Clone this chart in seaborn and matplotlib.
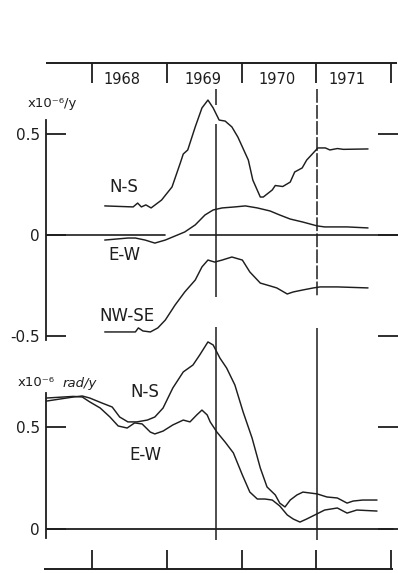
import numpy as np
import pandas as pd
import matplotlib
matplotlib.use("Agg")
import matplotlib.pyplot as plt
import matplotlib.transforms as mtransforms
import seaborn as sns

# ---------------- data ----------------
# Upper panel: strain rate (x10^-6 / y)
ns_top_year = [1968.17, 1968.55, 1968.61, 1968.66, 1968.72, 1968.79, 1968.93, 1969.07,
               1969.18, 1969.22, 1969.28, 1969.38, 1969.47, 1969.55, 1969.62, 1969.70,
               1969.78, 1969.87, 1969.95, 1970.09, 1970.15, 1970.25, 1970.29, 1970.41,
               1970.45, 1970.55, 1970.65, 1970.71, 1970.81, 1970.87, 1971.02, 1971.12,
               1971.18, 1971.28, 1971.36, 1971.69]
ns_top_val = [0.144, 0.139, 0.158, 0.139, 0.149, 0.134, 0.173, 0.238,
              0.356, 0.401, 0.421, 0.535, 0.629, 0.668, 0.629, 0.569,
              0.564, 0.535, 0.485, 0.371, 0.272, 0.188, 0.188, 0.223,
              0.245, 0.240, 0.262, 0.312, 0.332, 0.371, 0.431, 0.431,
              0.421, 0.428, 0.424, 0.426]

ew_top_year = [1968.17, 1968.48, 1968.58, 1968.71, 1968.84, 1968.98, 1969.11, 1969.24,
               1969.38, 1969.51, 1969.62, 1969.74, 1969.91, 1970.05, 1970.21, 1970.38,
               1970.51, 1970.65, 1970.82, 1971.01, 1971.11, 1971.41, 1971.69]
ew_top_val = [-0.025, -0.015, -0.015, -0.025, -0.040, -0.025, -0.005, 0.015,
              0.050, 0.099, 0.124, 0.134, 0.139, 0.144, 0.134, 0.119,
              0.099, 0.079, 0.064, 0.045, 0.040, 0.040, 0.035]

nwse_top_year = [1968.17, 1968.58, 1968.62, 1968.68, 1968.78, 1968.88, 1968.98, 1969.11,
                 1969.24, 1969.38, 1969.47, 1969.55, 1969.64, 1969.74, 1969.87, 1970.01,
                 1970.11, 1970.25, 1970.38, 1970.47, 1970.61, 1970.69, 1970.82, 1970.96,
                 1971.05, 1971.28, 1971.69]
nwse_top_val = [-0.480, -0.480, -0.460, -0.475, -0.480, -0.460, -0.421, -0.347,
                -0.282, -0.223, -0.158, -0.124, -0.134, -0.124, -0.109, -0.124,
                -0.183, -0.238, -0.252, -0.262, -0.292, -0.282, -0.272, -0.262,
                -0.257, -0.257, -0.262]

# Lower panel: tilt rate (x10^-6 rad / y)
ns_bot_year = [1967.39, 1967.75, 1967.87, 1967.97, 1968.13, 1968.27, 1968.37, 1968.48,
               1968.60, 1968.74, 1968.84, 1968.95, 1969.08, 1969.22, 1969.35, 1969.44,
               1969.55, 1969.62, 1969.71, 1969.80, 1969.91, 1970.02, 1970.14, 1970.25,
               1970.34, 1970.45, 1970.51, 1970.58, 1970.65, 1970.74, 1970.82, 1971.01,
               1971.14, 1971.28, 1971.41, 1971.49, 1971.62, 1971.81]
ns_bot_val = [0.627, 0.647, 0.652, 0.642, 0.618, 0.598, 0.549, 0.525,
              0.525, 0.534, 0.549, 0.593, 0.691, 0.770, 0.804, 0.853,
              0.917, 0.902, 0.838, 0.789, 0.706, 0.574, 0.446, 0.299,
              0.206, 0.167, 0.127, 0.108, 0.142, 0.167, 0.181, 0.172,
              0.157, 0.152, 0.127, 0.137, 0.142, 0.142]

ew_bot_year = [1967.39, 1967.75, 1967.87, 1967.97, 1968.11, 1968.24, 1968.35, 1968.47,
               1968.57, 1968.67, 1968.78, 1968.84, 1968.95, 1969.08, 1969.22, 1969.31,
               1969.40, 1969.47, 1969.54, 1969.58, 1969.67, 1969.78, 1969.89, 1970.01,
               1970.11, 1970.21, 1970.31, 1970.41, 1970.51, 1970.61, 1970.69, 1970.78,
               1970.87, 1970.98, 1971.11, 1971.28, 1971.41, 1971.54, 1971.81]
ew_bot_val = [0.642, 0.650, 0.647, 0.623, 0.593, 0.549, 0.505, 0.495,
              0.520, 0.515, 0.475, 0.466, 0.480, 0.510, 0.534, 0.525,
              0.559, 0.583, 0.559, 0.525, 0.475, 0.426, 0.373, 0.265,
              0.181, 0.147, 0.147, 0.142, 0.113, 0.069, 0.049, 0.034,
              0.049, 0.069, 0.093, 0.103, 0.078, 0.093, 0.088]

year_ticks = [1968, 1969, 1970, 1971, 1972]
year_labels = ["1968", "1969", "1970", "1971"]
event_years = [1969.66, 1971.01]
top_yticks = [-0.5, 0, 0.5]
top_ylabels = ["-0.5", "0", "0.5"]
bot_yticks = [0, 0.5]
bot_ylabels = ["0", "0.5"]

# ---------------- styling / layout ----------------
sns.set_style("white")
plt.rcParams['font.family'] = ['DejaVu Sans']
plt.rcParams['axes.unicode_minus'] = False

W, H = 398, 573
INK = '#1e1e1e'
fig = plt.figure(figsize=(W / 100, H / 100), dpi=100)
fig.patch.set_facecolor('white')


def px_box(x0, y0, x1, y1):
    return [x0 / W, 1 - y1 / H, (x1 - x0) / W, (y1 - y0) / H]


XLIM = (1968 + (46 - 92) / 74.8, 1968 + (398 - 92) / 74.8)

# full-figure overlay for decorations (x in years via blend, y in pixels)
axf = fig.add_axes([0, 0, 1, 1])
axf.set_xlim(0, W)
axf.set_ylim(H, 0)
axf.axis('off')

ax_top = fig.add_axes(px_box(46, 120, 398, 340))
ax_top.set_xlim(*XLIM)
ax_top.set_ylim((235 - 340) / 202, (235 - 120) / 202)

ax_bot = fig.add_axes(px_box(46, 393, 398, 538))
ax_bot.set_xlim(*XLIM)
ax_bot.set_ylim((529 - 538) / 204, (529 - 393) / 204)

top_df = pd.concat([
    pd.DataFrame({'year': ns_top_year, 'val': ns_top_val, 'comp': 'N-S'}),
    pd.DataFrame({'year': ew_top_year, 'val': ew_top_val, 'comp': 'E-W'}),
    pd.DataFrame({'year': nwse_top_year, 'val': nwse_top_val, 'comp': 'NW-SE'}),
], ignore_index=True)
bot_df = pd.concat([
    pd.DataFrame({'year': ns_bot_year, 'val': ns_bot_val, 'comp': 'N-S'}),
    pd.DataFrame({'year': ew_bot_year, 'val': ew_bot_val, 'comp': 'E-W'}),
], ignore_index=True)

for ax, df in [(ax_top, top_df), (ax_bot, bot_df)]:
    sns.lineplot(data=df, x='year', y='val', units='comp', estimator=None, sort=False,
                 color=INK, linewidth=1.05, ax=ax, legend=False)
    for ln in ax.lines:
        ln.set_clip_on(False)
    ax.set_facecolor('none')
    ax.set_xlabel('')
    ax.set_ylabel('')
    ax.set_xticks([])
    for s in ['top', 'right', 'bottom']:
        ax.spines[s].set_visible(False)
    ax.spines['left'].set_color(INK)
    ax.spines['left'].set_linewidth(1.3)
    ax.tick_params(axis='y', direction='in', length=14.5, width=1.3, color=INK,
                   left=True, right=True, labelsize=11, pad=4.5, labelcolor=INK)

ax_top.set_yticks(top_yticks, top_ylabels)
ax_bot.set_yticks(bot_yticks, bot_ylabels)

# zero lines
ax_top.axhline(0, xmin=0, xmax=0.338, color=INK, lw=1.2)
ax_top.axhline(0, xmin=0.409, xmax=1.0, color=INK, lw=1.2)
ax_bot.axhline(0, xmin=0, xmax=0.986, color=INK, lw=1.3)

# curve labels
lab_kw = dict(fontsize=12, color=INK, ha='center', va='center')
ax_top.text(1968.43, 0.238, 'N-S', **lab_kw)
ax_top.text(1968.44, -0.099, 'E-W', **lab_kw)
ax_top.text(1968.47, -0.401, 'NW-SE', **lab_kw)
ax_bot.text(1968.71, 0.672, 'N-S', **lab_kw)
ax_bot.text(1968.72, 0.363, 'E-W', **lab_kw)

# unit labels
axf.text(28, 103, 'x10⁻⁶/y', fontsize=9.5, color=INK, ha='left', va='center')
axf.text(18, 383, 'x10⁻⁶', fontsize=9.5, color=INK, ha='left', va='center')
axf.text(63, 384, 'rad/y', fontsize=9.5, color=INK, ha='left', va='center', style='italic')

# time axes (top with year labels, bottom ticks only)
trans = mtransforms.blended_transform_factory(ax_top.transData, axf.transData)
axf.plot([46, 397], [63, 63], color=INK, lw=1.4, solid_capstyle='butt')
axf.vlines(year_ticks, 63, 83, transform=trans, color=INK, lw=1.3)
label_offsets_px = [-7, -1, -2, -7]
for yr, lab, off in zip(year_ticks[:-1], year_labels, label_offsets_px):
    axf.annotate(lab, xy=(yr + 0.5, 79), xycoords=trans, xytext=(off * 0.72, 0),
                 textcoords='offset points', ha='center', va='center',
                 fontsize=10.5, color=INK)
axf.plot([44, 393], [569, 569], color=INK, lw=1.4, solid_capstyle='butt')
axf.vlines(year_ticks, 550, 569, transform=trans, color=INK, lw=1.3)

# event lines
axf.vlines([event_years[0]] * 3, [89, 124, 327], [105, 297, 540], transform=trans,
           color=INK, lw=1.1)
axf.vlines([event_years[1]], [89], [297], transform=trans,
           color=INK, lw=1.1, linestyles=(0, (9, 1.5)))
axf.vlines([event_years[1]], [328], [540], transform=trans, color=INK, lw=1.1)

fig.savefig('out.png', dpi=100, facecolor='white')
